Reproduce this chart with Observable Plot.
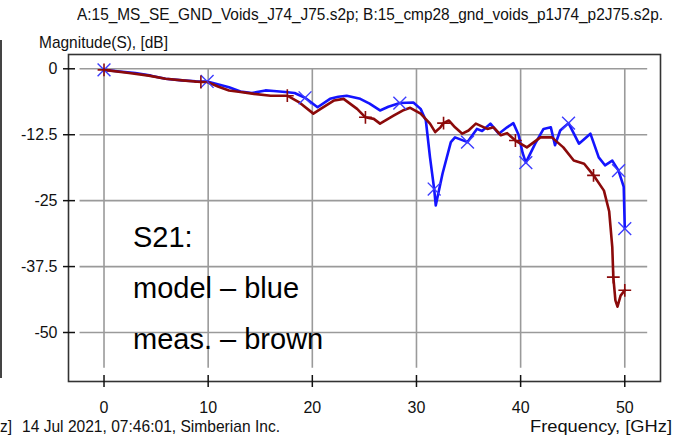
<!DOCTYPE html>
<html><head><meta charset="utf-8">
<script src="https://cdn.jsdelivr.net/npm/d3@7"></script>
<script src="https://cdn.jsdelivr.net/npm/@observablehq/plot@0.6"></script>
<style>
html,body{margin:0;padding:0;background:#fff;}
#wrap{position:relative;width:681px;height:438px;overflow:hidden;font-family:"Liberation Sans",Arial,sans-serif;color:#111;background:#fff;}
#wrap svg{position:absolute;left:0;top:0;}
.t{position:absolute;white-space:nowrap;font-size:17px;line-height:1;transform-origin:0 50%;}
.ann{position:absolute;white-space:nowrap;font-size:29px;line-height:1;color:#000;transform-origin:0 50%;}
#lborder{position:absolute;left:0;top:40px;width:0;height:338px;border-left:2px solid #444;}
</style></head><body><div id="wrap"><div id="lborder"></div></div>
<script>
// ---- text ----
const titleText = "A:15_MS_SE_GND_Voids_J74_J75.s2p; B:15_cmp28_gnd_voids_p1J74_p2J75.s2p.";
const yLabelText = "Magnitude(S), [dB]";
const xLabelText = "Frequency, [GHz]";
const stampText = "14 Jul 2021, 07:46:01, Simberian Inc.";
const clippedText = "z]";
const annLines = ["S21:", "model \u2013 blue", "meas. \u2013 brown"];

// ---- ticks ----
const xTicks = [0, 10, 20, 30, 40, 50];
const yTicks = [0, -12.5, -25, -37.5, -50];

// ---- series A: model (blue) ----
const modelFreq = [0,1.5,3,4.5,5.9,7.5,8.8,9.9,11,12,13.1,14.2,15.5,16.3,17.4,18.3,19.3,20.5,21.7,22.5,23.3,24.6,25.5,26.5,27.3,28.4,29.7,30.4,30.9,31.3,31.7,31.85,32.5,33.3,33.7,34.9,35.8,36.3,37.1,37.9,38.7,39.3,39.8,40.2,40.5,41.4,42.2,42.9,43.3,43.8,44.6,45.6,46.7,47.5,48.1,48.8,49.4,49.9,50];
const modelDb = [-0.2,-0.5,-0.8,-1.3,-1.9,-2.2,-2.35,-2.4,-3.0,-3.5,-4.3,-4.6,-4.1,-4.2,-4.4,-4.6,-5.5,-7.3,-5.7,-5.3,-5.1,-5.7,-6.6,-7.9,-7.2,-6.5,-6.4,-7.6,-9.8,-16.8,-22.8,-25.9,-19.9,-13.9,-13.0,-13.9,-11.4,-11.8,-10.4,-12.3,-11.1,-10.3,-12.5,-16,-17.8,-14.2,-11.4,-11.1,-14.5,-11.7,-10.3,-14.2,-12.3,-16.8,-18.3,-17.4,-19.3,-22.4,-30.3];
const modelMarkFreq = [0, 9.9, 19.3, 28.4, 31.7, 34.9, 40.5, 44.6, 49.4, 50];

// ---- series B: measurement (brown) ----
const measFreq = [0,2.4,4.3,5.9,7.5,9.3,9.9,11,12,13.1,14.4,16,17.6,18.7,20.1,20.8,22.1,23,24.3,25.1,25.9,26.5,27.8,28.8,29.4,30.4,31.3,31.8,32.3,32.6,33.1,33.7,34.4,35,35.7,36.8,37.4,38.1,38.7,39.5,40.6,41.9,43,44.1,45.1,46.1,47,48,48.5,48.8,48.9,49.1,49.3,49.6,50];
const measDb = [-0.2,-0.8,-1.3,-1.9,-2.2,-2.5,-2.5,-3.4,-4.1,-4.4,-4.75,-5.1,-5.1,-6.3,-8.5,-7.6,-6.0,-5.7,-7.6,-9.2,-9.5,-10.4,-8.9,-7.8,-7.4,-8.5,-10.4,-12.0,-11.1,-10.3,-9.8,-11.1,-12.3,-11.7,-10.4,-11.4,-11.1,-12.6,-12.2,-13.6,-14.9,-13.0,-13.0,-14.9,-17.4,-18.0,-20.2,-23.1,-27,-33.8,-39.5,-43.9,-45.1,-43,-42];
const measMarkFreq = [0, 9.3, 17.6, 25.1, 32.6, 39.5, 47, 48.9, 50];

const model = modelFreq.map((f, i) => ({f, db: modelDb[i]}));
const meas = measFreq.map((f, i) => ({f, db: measDb[i]}));
const modelMarks = model.filter(d => modelMarkFreq.includes(d.f));
const measMarks = meas.filter(d => measMarkFreq.includes(d.f));

const chart = Plot.plot({
  width: 681, height: 438,
  marginLeft: 68, marginRight: 21, marginTop: 54, marginBottom: 57,
  x: {domain: [-3.41, 53.43], label: null},
  y: {domain: [-59.29, 2.71], label: null},
  style: {fontFamily: "'Liberation Sans', Arial, sans-serif", fontSize: "16px", color: "#111", background: "transparent", overflow: "visible"},
  marks: [
    Plot.ruleX(xTicks, {y1: 0, y2: -56.8, stroke: "#9a9a9a", strokeWidth: 1.6}),
    Plot.ruleY(yTicks, {x1: -2.3, x2: 52.2, stroke: "#9a9a9a", strokeWidth: 1.6}),
    Plot.line(model, {x: "f", y: "db", stroke: "#1414ff", strokeWidth: 2.6}),
    Plot.line(meas, {x: "f", y: "db", stroke: "#8b0a0a", strokeWidth: 2.6}),
    Plot.dot(modelMarks, {x: "f", y: "db", symbol: "times", r: 5.9, stroke: "#3c3cff", strokeWidth: 1.4}),
    Plot.dot(measMarks, {x: "f", y: "db", symbol: "plus", r: 4.2, stroke: "#8b0a0a", strokeWidth: 1.6}),
    Plot.frame({stroke: "#333", strokeWidth: 1.6}),
    Plot.axisY(yTicks, {tickSize: 12, dx: 7, text: null, stroke: "#111", strokeWidth: 1.5, label: null}),
    Plot.axisY(yTicks, {tickSize: 0, tickPadding: 11, label: null, tickFormat: d => String(d)}),
    Plot.axisX(xTicks, {tickSize: 12, dy: -6, text: null, stroke: "#111", strokeWidth: 1.5, label: null}),
    Plot.axisX(xTicks, {tickSize: 0, tickPadding: 20, label: null, tickFormat: d => String(d)})
  ]
});
const wrap = document.getElementById("wrap");
wrap.appendChild(chart);

function addText(txt, cls, left, centerY, targetWidth, align) {
  const el = document.createElement("div");
  el.className = cls;
  el.textContent = txt;
  wrap.appendChild(el);
  const fs = parseFloat(getComputedStyle(el).fontSize);
  el.style.top = (centerY - fs / 2) + "px";
  const w = el.getBoundingClientRect().width;
  const s = targetWidth ? targetWidth / w : 1;
  el.style.transform = `scaleX(${s})`;
  el.style.left = (align === "right" ? left - w * s : left) + "px";
  return el;
}
addText(titleText, "t", 77, 14, 586);
addText(yLabelText, "t", 39, 42, 129);
addText(stampText, "t", 22, 426, 258);
addText(xLabelText, "t", 672, 426, 142, "right");
addText(clippedText, "t", 0, 426, 12);
const annY = [237, 288, 339];
annLines.forEach((s, i) => addText(s, "ann", 133, annY[i]));
</script>
</body></html>
